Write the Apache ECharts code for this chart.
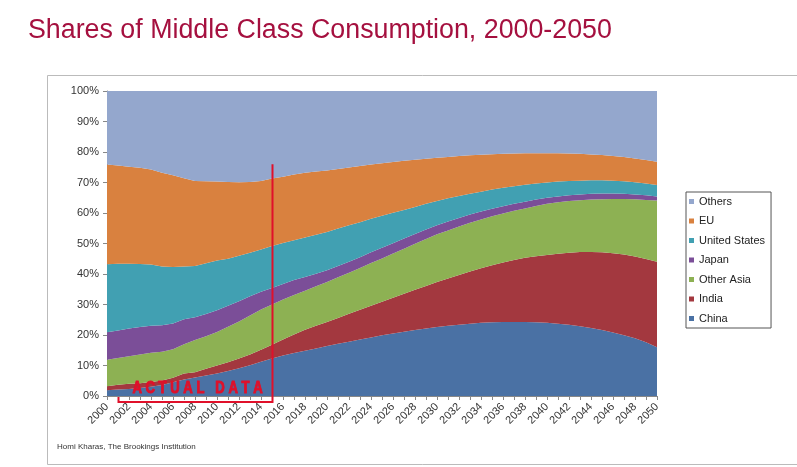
<!DOCTYPE html>
<html>
<head>
    <meta charset="utf-8">
    <title>Shares of Middle Class Consumption</title>
    <script src="https://cdn.jsdelivr.net/npm/echarts@6/dist/echarts.min.js"></script>
    <style>
        html, body { margin: 0; padding: 0; background: #fff; }
    </style>
</head>
<body>
 <div id="main" style="width: 797px;height:467px;"></div>
 <script type="text/javascript">
 // years on the x axis
 var years = [];
 for (var y = 2000; y <= 2050; y++) { years.push(String(y)); }

 // shares in % per year, 2000..2050
 var china = [1.9, 2.1, 2.3, 2.6, 3.0, 3.6, 4.5, 5.4, 6.1, 6.7,
     7.4, 8.2, 9.1, 10.1, 11.2, 12.3, 13.3, 14.1, 14.8, 15.6,
     16.4, 17.1, 17.8, 18.5, 19.2, 19.9, 20.5, 21.1, 21.6, 22.1,
     22.6, 23.0, 23.4, 23.7, 24.0, 24.2, 24.3, 24.3, 24.3, 24.2,
     24.0, 23.7, 23.4, 22.9, 22.3, 21.6, 20.8, 19.9, 18.9, 17.6, 16.0];
 var india = [1.3, 1.6, 1.7, 1.6, 1.6, 1.5, 1.5, 2.0, 1.7, 2.2,
     2.6, 2.9, 3.2, 3.5, 4.0, 4.5, 5.2, 6.1, 6.9, 7.4,
     7.9, 8.5, 9.2, 9.8, 10.4, 11.0, 11.7, 12.4, 13.2, 14.0,
     14.8, 15.5, 16.3, 17.1, 17.9, 18.7, 19.5, 20.3, 21.0, 21.6,
     22.2, 22.9, 23.6, 24.3, 24.9, 25.5, 26.0, 26.5, 26.8, 27.3, 28.0];
 var otherAsia = [8.7, 8.8, 9.0, 9.4, 9.6, 9.4, 9.3, 9.6, 10.6, 10.7,
     11.0, 11.6, 12.1, 12.8, 13.2, 13.2, 13.1, 12.9, 12.8, 13.0,
     13.1, 13.3, 13.4, 13.7, 14.0, 14.2, 14.5, 14.8, 15.1, 15.4,
     15.6, 15.8, 15.9, 16.0, 16.0, 16.0, 16.0, 16.1, 16.2, 16.5,
     16.8, 16.9, 16.9, 17.0, 17.2, 17.4, 17.8, 18.2, 18.8, 19.4, 20.1];
 var japan = [9.0, 9.0, 9.1, 9.0, 8.8, 8.7, 8.5, 8.2, 7.4, 7.3,
     7.1, 6.9, 6.7, 6.3, 5.8, 5.4, 5.1, 4.9, 4.5, 4.1,
     3.8, 3.7, 3.6, 3.5, 3.5, 3.5, 3.4, 3.3, 3.2, 3.1,
     3.0, 2.9, 2.8, 2.7, 2.6, 2.5, 2.4, 2.3, 2.2, 2.1,
     2.0, 1.9, 1.9, 1.9, 1.9, 1.9, 1.8, 1.7, 1.6, 1.5, 1.3];
 var unitedStates = [22.3, 21.9, 21.3, 20.7, 20.1, 19.3, 18.5, 17.3, 16.8, 16.6,
     16.3, 15.4, 14.9, 14.3, 13.8, 13.8, 13.5, 13.1, 13.0, 12.8,
     12.6, 12.3, 12.0, 11.5, 11.0, 10.5, 10.0, 9.4, 8.9, 8.4,
     7.9, 7.6, 7.2, 6.8, 6.5, 6.3, 6.1, 5.8, 5.6, 5.3,
     5.0, 4.9, 4.7, 4.5, 4.4, 4.3, 4.2, 4.1, 4.0, 3.9, 3.8];
 var eu = [32.7, 32.2, 31.8, 31.5, 31.2, 30.7, 30.1, 28.9, 27.9, 26.9,
     25.9, 25.2, 24.1, 23.2, 22.5, 22.1, 21.7, 21.5, 21.2, 20.7,
     20.1, 19.5, 18.9, 18.4, 17.8, 17.2, 16.6, 16.1, 15.5, 14.8,
     14.2, 13.6, 13.1, 12.6, 12.1, 11.6, 11.1, 10.7, 10.3, 9.9,
     9.6, 9.3, 9.0, 8.8, 8.5, 8.3, 8.1, 8.0, 7.8, 7.7, 7.6];
 var others = [24.1, 24.4, 24.8, 25.2, 25.7, 26.8, 27.6, 28.6, 29.5, 29.6,
     29.7, 29.8, 29.9, 29.8, 29.5, 28.7, 28.1, 27.4, 26.8, 26.4,
     26.1, 25.6, 25.1, 24.6, 24.1, 23.7, 23.3, 22.9, 22.5, 22.2,
     21.9, 21.6, 21.3, 21.1, 20.9, 20.7, 20.6, 20.5, 20.4, 20.4,
     20.4, 20.4, 20.5, 20.6, 20.8, 21.0, 21.3, 21.6, 22.1, 22.6, 23.2];

 // bottom to top of the stack
 var seriesNames = ['China', 'India', 'Other Asia', 'Japan', 'United States', 'EU', 'Others'];
 var seriesData = [china, india, otherAsia, japan, unitedStates, eu, others];
 var seriesColors = ['#4A71A4', '#A3383F', '#8DB153', '#7B4E98', '#41A0B2', '#D9813F', '#94A7CD'];

 // span of the actual data period
 var actualFrom = '2001', actualTo = '2015';

 var myChart = echarts.init(document.getElementById('main'));

 var series = seriesNames.map(function (name, i) {
     return {
         name: name,
         type: 'line',
         stack: 'total',
         data: seriesData[i],
         color: seriesColors[i],
         showSymbol: false,
         lineStyle: { width: 0 },
         areaStyle: { color: seriesColors[i], opacity: 1 }
     };
 });

 myChart.setOption({
     animation: false,
     title: {
         text: 'Shares of Middle Class Consumption, 2000-2050',
         left: 23,
         top: 12,
         textStyle: {
             fontFamily: 'Liberation Sans',
             fontSize: 26.8,
             fontWeight: 'normal',
             color: '#A5103F'
         }
     },
     legend: {
         orient: 'vertical',
         left: 686,
         top: 192,
         data: seriesNames.slice().reverse(),
         icon: 'rect',
         itemWidth: 5,
         itemHeight: 5,
         itemGap: 8.5,
         padding: [4, 6, 4, 3],
         borderColor: '#555',
         borderWidth: 1,
         textStyle: { fontFamily: 'Liberation Sans', fontSize: 11, color: '#222' }
     },
     grid: { left: 107, right: 140, top: 91, bottom: 71 },
     xAxis: {
         type: 'category',
         boundaryGap: false,
         data: years,
         axisLine: { lineStyle: { color: '#888' } },
         axisTick: { interval: 0, length: 4, lineStyle: { color: '#888' } },
         axisLabel: {
             interval: 1,
             rotate: 45,
             margin: 9,
             fontFamily: 'Liberation Sans',
             fontSize: 11,
             color: '#333'
         }
     },
     yAxis: {
         type: 'value',
         min: 0,
         max: 100,
         interval: 10,
         axisLine: { show: true, lineStyle: { color: '#888' } },
         axisTick: { show: true, length: 4, lineStyle: { color: '#888' } },
         splitLine: { show: false },
         axisLabel: {
             formatter: '{value}%',
             margin: 8,
             fontFamily: 'Liberation Sans',
             fontSize: 11,
             color: '#333'
         }
     },
     series: series
 });

 // red "actual data" bracket placed through the chart's own scales
 var endPt = myChart.convertToPixel({ xAxisIndex: 0, yAxisIndex: 0 }, [actualTo, 76]);
 var startPt = myChart.convertToPixel({ xAxisIndex: 0, yAxisIndex: 0 }, [actualFrom, 0]);
 var x1 = Math.round(endPt[0]) + 0.5, x0 = Math.round(startPt[0]) + 0.5;
 var yBase = Math.round(startPt[1]) + 6;
 var red = '#E0102A';

 myChart.setOption({
     graphic: [
         {
             type: 'rect',
             silent: true,
             z: -1,
             shape: { x: 47.5, y: 75.5, width: 800, height: 389 },
             style: { fill: 'none', stroke: '#bbb', lineWidth: 1 }
         },
         {
             type: 'polyline',
             silent: true,
             z: 100,
             shape: { points: [[x0, yBase - 5], [x0, yBase], [x1, yBase], [x1, endPt[1]]] },
             style: { fill: 'none', stroke: red, lineWidth: 2 }
         },
         {
             type: 'text',
             silent: true,
             z: 100,
             x: (x0 + x1) / 2 + 2,
             y: yBase - 14,
             scaleX: 0.77,
             style: {
                 text: 'A C T U A L   D A T A',
                 font: 'bold 17px "Liberation Sans", sans-serif',
                 fill: red,
                 stroke: red,
                 lineWidth: 1,
                 align: 'center',
                 verticalAlign: 'middle'
             }
         },
         {
             type: 'text',
             silent: true,
             left: 57,
             top: 443,
             style: {
                 text: 'Homi Kharas, The Brookings Institution',
                 fontFamily: 'Liberation Sans',
                 fontSize: 8,
                 fill: '#333'
             }
         }
     ]
 });
</script>
</body>
</html>
